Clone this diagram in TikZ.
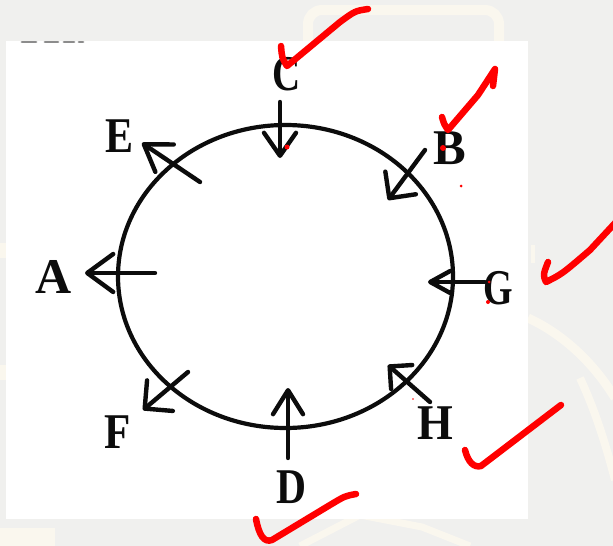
\documentclass[tikz,border=0pt]{standalone}
\usepackage{fontspec}
\setmainfont{Liberation Serif}
\usetikzlibrary{arrows.meta}
\definecolor{bg}{RGB}{240,240,238}
\definecolor{cream}{RGB}{250,247,238}
\definecolor{ink}{RGB}{12,12,12}
\definecolor{pen}{RGB}{255,0,0}
\definecolor{smudge}{RGB}{140,140,140}
\newcommand\mylab[2]{\scalebox{#1}[1]{#2}}
\begin{document}
\begin{tikzpicture}[x=1pt,y=-1pt,
  lbl/.style={inner sep=0pt, text=ink, font=\fontsize{50}{50}\selectfont\bfseries},
  ring/.style={line width=4.2pt, draw=ink},
  arr/.style 2 args={line width=4.4pt, draw=ink, line cap=round,
    -{Straight Barb[length=#1, width=#2, round]}},
  tick/.style={line width=6.5pt, draw=pen, line cap=round, line join=round},
  dot/.style={fill=pen, draw=none},
  wm/.style={draw=cream, line width=10pt},
  sm/.style={draw=smudge, line width=2.8pt, line cap=round}]
% background
\fill[bg] (0,0) rectangle (613,546);
\useasboundingbox (0,0) rectangle (613,546);
% faint watermark
\draw[wm, rounded corners=14pt] (308,10) rectangle (499,60);
\fill[cream] (0,243) rectangle (6,258);
\fill[cream] (0,365) rectangle (6,380);
\fill[cream] (0,528) rectangle (55,546);
\fill[cream] (531,245) rectangle (535,263);
\draw[wm, line width=9pt] (528,318) .. controls (565,335) and (595,365) .. (615,398);
\draw[wm, line width=8pt] (580,378) .. controls (595,410) and (606,445) .. (615,480);
\draw[wm, line width=7pt] (300,546) -- (360,515) -- (422,527) -- (470,546);
% white sheet
\fill[white] (6,41) rectangle (528,519);
\draw[sm] (22,42) -- (36,42);
\draw[sm] (45,42) -- (58,42);
\draw[sm] (64,42) -- (74,42);
\draw[sm] (79,42) -- (83,42);
% ring
\draw[ring] (285.5,276.5) ellipse [x radius=167.5, y radius=151.5];
% arrow end points
\coordinate (Ct) at (280,102); \coordinate (Ch) at (280,158);
\coordinate (Et) at (200,182); \coordinate (Eh) at (142,143);
\coordinate (Bt) at (425,150); \coordinate (Bh) at (388,200);
\coordinate (At) at (155,273); \coordinate (Ah) at (85,273);
\coordinate (Gt) at (485,282); \coordinate (Gh) at (428,282);
\coordinate (Ft) at (188,372); \coordinate (Fh) at (143,410);
\coordinate (Ht) at (430,402); \coordinate (Hh) at (388,365);
\coordinate (Dt) at (288,458); \coordinate (Dh) at (288,388);
\draw[arr={23pt}{32pt}] (Ct) -- (Ch);
\draw[arr={25pt}{33pt}] (Et) -- (Eh);
\draw[arr={19pt}{38pt}] (Bt) -- (Bh);
\draw[arr={26pt}{38pt}] (At) -- (Ah);
\draw[arr={20pt}{22pt}] (Gt) -- (Gh);
\draw[arr={20pt}{40pt}] (Ft) -- (Fh);
\draw[arr={16pt}{32pt}] (Ht) -- (Hh);
\draw[arr={24pt}{30pt}] (Dt) -- (Dh);
% labels
\node[lbl] (C) at (287,74.5) {\mylab{0.78}{C}};
\node[lbl] (E) at (120,136.5) {\mylab{0.84}{E}};
\node[lbl] (B) at (450,148.5) {\mylab{0.98}{B}};
\node[lbl] (A) at (53.5,276.5) {\mylab{1.0}{A}};
\node[lbl] (G) at (498.5,288.5) {\mylab{0.76}{G}};
\node[lbl] (F) at (117.5,432.5) {\mylab{0.86}{F}};
\node[lbl] (H) at (435,423.5) {\mylab{0.92}{H}};
\node[lbl] (D) at (291,487.5) {\mylab{0.83}{D}};
% red ticks
\draw[tick] (281,46) .. controls (282,58) .. (287,66) -- (340,22) .. controls (355,11) .. (368,9);
\draw[tick] (442,117) .. controls (444,124) .. (448,130) -- (478,95) -- (495,69) -- (493,86);
\draw[tick] (548,262) .. controls (543,275) .. (546,282) .. controls (562,274) .. (590,250) -- (616,222);
\draw[tick] (465,450) .. controls (468,462) and (474,468) .. (481,466) -- (561,405);
\draw[tick] (256,519) .. controls (259,535) and (264,543) .. (272,540) -- (330,505) .. controls (345,496) .. (356,494);
% red specks
\fill[dot] (287,147) circle (2.5);
\fill[dot] (443,148) circle (3);
\fill[dot] (461,186) circle (1.5);
\fill[dot] (489,282) circle (1.5);
\fill[dot] (488,302) circle (2);
\fill[dot] (413,399) circle (0.8);
\end{tikzpicture}
\end{document}
